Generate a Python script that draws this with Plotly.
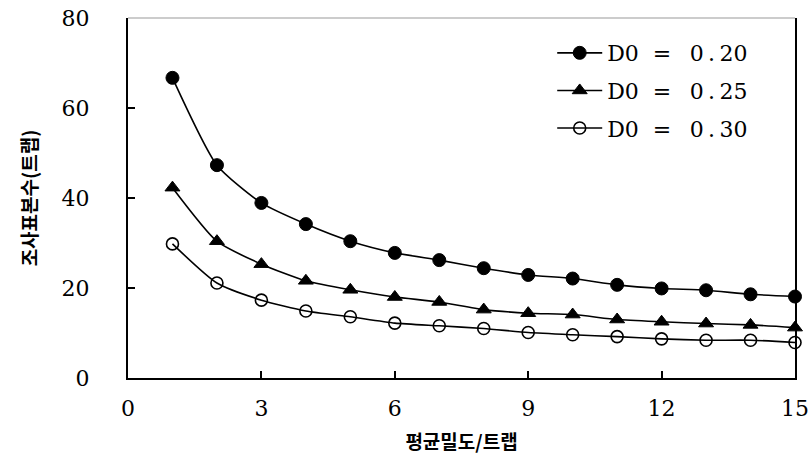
import plotly.graph_objects as go

density = [1, 2, 3, 4, 5, 6, 7, 8, 9, 10, 11, 12, 13, 14, 15]
d020 = [66.7, 47.3, 38.9, 34.2, 30.4, 27.8, 26.2, 24.4, 22.9, 22.1, 20.7, 19.9, 19.5, 18.6, 18.1]
d025 = [42.3, 30.4, 25.3, 21.6, 19.6, 18.0, 16.9, 15.2, 14.4, 14.1, 13.0, 12.5, 12.1, 11.8, 11.2]
d030 = [29.8, 21.1, 17.3, 14.9, 13.6, 12.2, 11.6, 11.0, 10.1, 9.6, 9.2, 8.7, 8.4, 8.4, 7.9]
names = ["D0\u2007=\u2007\u20090\u2009.\u200920",
         "D0\u2007=\u2007\u20090\u2009.\u200925",
         "D0\u2007=\u2007\u20090\u2009.\u200930"]
x_ticks = [0, 3, 6, 9, 12, 15]
y_ticks = [0, 20, 40, 60, 80]

styles = [
    dict(symbol="circle", size=13, color="black", line=dict(color="black", width=1)),
    dict(symbol="triangle-up", size=13, color="black", line=dict(color="black", width=1)),
    dict(symbol="circle-open", size=12, color="black", line=dict(color="black", width=1.6)),
]

fig = go.Figure()
for i, (name, vals, st) in enumerate(zip(names, [d020, d025, d030], styles)):
    fig.add_trace(go.Scatter(
        x=density, y=vals, name=name, mode="lines+markers", legendgroup=f"g{i}",
        line=dict(color="black", width=1.6, shape="spline", smoothing=0.6),
        marker=st, cliponaxis=False,
    ))

serif = "DejaVu Serif"
fig.update_layout(
    width=812, height=470,
    margin=dict(l=128, r=17, t=18, b=92),
    paper_bgcolor="white", plot_bgcolor="white",
    showlegend=True,
    legend=dict(x=0.636, y=0.961, xanchor="left", yanchor="top",
                font=dict(family=serif, size=22, color="black"),
                bgcolor="rgba(0,0,0,0)", tracegroupgap=6, itemwidth=45),
    xaxis=dict(range=[0, 15], tickvals=x_ticks, ticks="inside", ticklen=7, tickwidth=1.5,
               tickcolor="black", showline=True, linecolor="black", linewidth=2,
               showgrid=False, zeroline=False, ticklabelstandoff=10, automargin=False,
               ticklabeloverflow="allow",
               tickfont=dict(family=serif, size=22, color="black"),
               title=dict(text="평균밀도/트랩", standoff=15,
                          font=dict(family="Noto Sans CJK KR", size=19, color="black", weight="bold"))),
    yaxis=dict(range=[0, 80], tickvals=y_ticks, ticks="inside", ticklen=7, tickwidth=1.5,
               tickcolor="black", showline=True, linecolor="black", linewidth=2, mirror=True,
               showgrid=False, zeroline=False, ticklabelstandoff=32, automargin=False,
               ticklabeloverflow="allow",
               tickfont=dict(family=serif, size=22, color="black"),
               title=dict(text="조사표본수(트랩)", standoff=19,
                          font=dict(family="Noto Sans CJK KR", size=19, color="black", weight="bold"))),
    shapes=[dict(type="line", xref="paper", yref="paper", x0=0, x1=1, y0=1, y1=1,
                 line=dict(color="#bbbbbb", width=1.5))],
)

fig.write_html("out.html", config={"displayModeBar": False},
               post_script="document.body.style.margin='0';")
